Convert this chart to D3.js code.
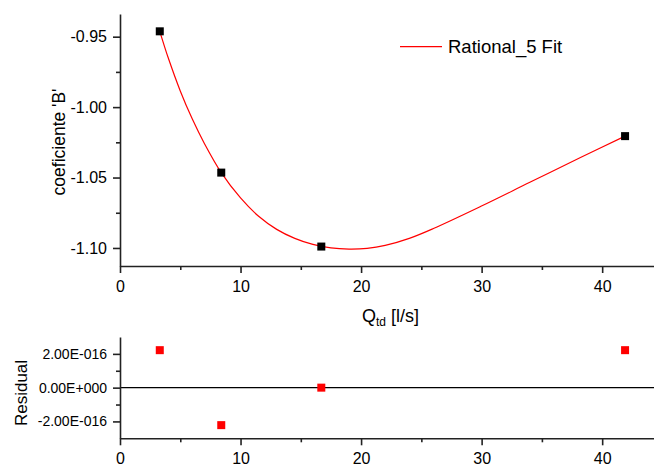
<!DOCTYPE html>
<html lang="en">
<head>
<meta charset="utf-8">
<title>Rational_5 Fit</title>
<script src="https://d3js.org/d3.v7.min.js"></script>
<style type="text/css">
  body { margin: 0; background: #fff; }
  text { font-family: Arial, "Liberation Sans", sans-serif; fill: #000; }
  .axis path, .axis line { stroke: #222; stroke-width: 1.6; }
</style>
</head>
<body>
<div id="chart"></div>
<script type="text/javascript">

// Measured points (Q_td, coeficiente 'B')
var qValues = [3.3, 8.4, 16.7, 41.9];
var bValues = [-0.9462, -1.0465, -1.0990, -1.0206];

// Fit curve
var fitQ = [3.3, 4.0, 5.0, 6.0, 7.0, 8.4, 10.0, 11.5, 13.0, 14.5, 16.0, 17.5, 19.0, 20.5, 22.0, 24.0, 26.0, 29.9, 34.0, 38.2, 41.9];
var fitB = [-0.9462, -0.965, -0.9885, -1.0085, -1.0258, -1.0465, -1.0645, -1.0775, -1.0868, -1.0932, -1.0975, -1.1000, -1.1008, -1.1003, -1.0982, -1.0932, -1.0862, -1.0706, -1.0534, -1.0358, -1.0206];

// Residuals
var residValues = [2.22e-16, -2.22e-16, 0, 2.22e-16];

// Ticks
var xTicks = [0, 10, 20, 30, 40];
var xMinor = [5, 15, 25, 35];
var yTicks = [-1.10, -1.05, -1.00, -0.95];
var yMinor = [-1.075, -1.025, -0.975];
var resTicks = [-2e-16, 0, 2e-16];
var resTickLabels = ["-2.00E-016", "0.00E+000", "2.00E-016"];
var resMinor = [-1e-16, 1e-16];

var w = 654, h = 466;

var svg = d3.select("#chart").append("svg")
    .attr("width", w)
    .attr("height", h);

var x = d3.scaleLinear().domain([0, 44.3]).range([120, 654]);
var y = d3.scaleLinear().domain([-1.1128, -0.9339]).range([266, 14]);
var yRes = d3.scaleLinear().domain([-3e-16, 3e-16]).range([438.3, 337]);

// ---- top panel ----
svg.append("g").attr("class", "axis")
    .attr("transform", "translate(0,266)")
    .call(d3.axisBottom(x).tickValues(xTicks).tickSize(7).tickSizeOuter(0).tickPadding(8))
    .call(g => g.selectAll("text").style("font-size", "16px"));
svg.append("g").attr("class", "axis")
    .attr("transform", "translate(0,266)")
    .call(d3.axisBottom(x).tickValues(xMinor).tickSize(4).tickSizeOuter(0).tickFormat(""))
    .call(g => g.select(".domain").remove());

svg.append("g").attr("class", "axis")
    .attr("transform", "translate(120,0)")
    .call(d3.axisLeft(y).tickValues(yTicks).tickSize(7).tickSizeOuter(0).tickPadding(6)
        .tickFormat(function(d) { return d.toFixed(2); }))
    .call(g => g.selectAll("text").style("font-size", "16px"));
svg.append("g").attr("class", "axis")
    .attr("transform", "translate(120,0)")
    .call(d3.axisLeft(y).tickValues(yMinor).tickSize(4).tickSizeOuter(0).tickFormat(""))
    .call(g => g.select(".domain").remove());

// fit line
var fitData = fitQ.map(function(q, i) { return [q, fitB[i]]; });
svg.append("path")
    .datum(fitData)
    .attr("fill", "none")
    .attr("stroke", "red")
    .attr("stroke-width", 1.2)
    .attr("d", d3.line()
        .x(function(d) { return x(d[0]); })
        .y(function(d) { return y(d[1]); })
        .curve(d3.curveCatmullRom.alpha(0.5)));

// data squares
var sq = 8;
svg.selectAll("rect.pt")
    .data(qValues)
    .enter()
    .append("rect")
    .attr("class", "pt")
    .attr("x", function(d) { return x(d) - sq / 2; })
    .attr("y", function(d, i) { return y(bValues[i]) - sq / 2; })
    .attr("width", sq)
    .attr("height", sq)
    .attr("fill", "#000");

// legend
svg.append("line")
    .attr("x1", 400).attr("x2", 442)
    .attr("y1", 46.7).attr("y2", 46.7)
    .attr("stroke", "red").attr("stroke-width", 1.2);
svg.append("text")
    .attr("x", 448).attr("y", 53)
    .style("font-size", "18.5px")
    .text("Rational_5 Fit");

// axis titles
svg.append("text")
    .attr("transform", "translate(65,142) rotate(-90)")
    .attr("text-anchor", "middle")
    .style("font-size", "17.5px")
    .text("coeficiente 'B'");

var xt = svg.append("text")
    .attr("x", 362).attr("y", 322)
    .style("font-size", "18px");
xt.append("tspan").text("Q");
xt.append("tspan").attr("dy", 4).style("font-size", "12px").text("td");
xt.append("tspan").attr("dy", -4).text(" [l/s]");

// ---- residual panel ----
svg.append("line")
    .attr("x1", 120).attr("x2", 654)
    .attr("y1", yRes(0)).attr("y2", yRes(0))
    .attr("stroke", "#000").attr("stroke-width", 1.4);

svg.append("g").attr("class", "axis")
    .attr("transform", "translate(0," + yRes(-3e-16) + ")")
    .call(d3.axisBottom(x).tickValues(xTicks).tickSize(7).tickSizeOuter(0).tickPadding(7))
    .call(g => g.selectAll("text").style("font-size", "16px"));
svg.append("g").attr("class", "axis")
    .attr("transform", "translate(0," + yRes(-3e-16) + ")")
    .call(d3.axisBottom(x).tickValues(xMinor).tickSize(4).tickSizeOuter(0).tickFormat(""))
    .call(g => g.select(".domain").remove());

svg.append("g").attr("class", "axis")
    .attr("transform", "translate(120,0)")
    .call(d3.axisLeft(yRes).tickValues(resTicks).tickSize(7).tickSizeOuter(0).tickPadding(6)
        .tickFormat(function(d, i) { return resTickLabels[i]; }))
    .call(g => g.selectAll("text").style("font-size", "14px"));
svg.append("g").attr("class", "axis")
    .attr("transform", "translate(120,0)")
    .call(d3.axisLeft(yRes).tickValues(resMinor).tickSize(4).tickSizeOuter(0).tickFormat(""))
    .call(g => g.select(".domain").remove());

svg.selectAll("rect.res")
    .data(qValues)
    .enter()
    .append("rect")
    .attr("class", "res")
    .attr("x", function(d) { return x(d) - sq / 2; })
    .attr("y", function(d, i) { return yRes(residValues[i]) - sq / 2; })
    .attr("width", sq)
    .attr("height", sq)
    .attr("fill", "red");

svg.append("text")
    .attr("transform", "translate(27,393) rotate(-90)")
    .attr("text-anchor", "middle")
    .style("font-size", "17px")
    .text("Residual");

</script>
</body>
</html>
